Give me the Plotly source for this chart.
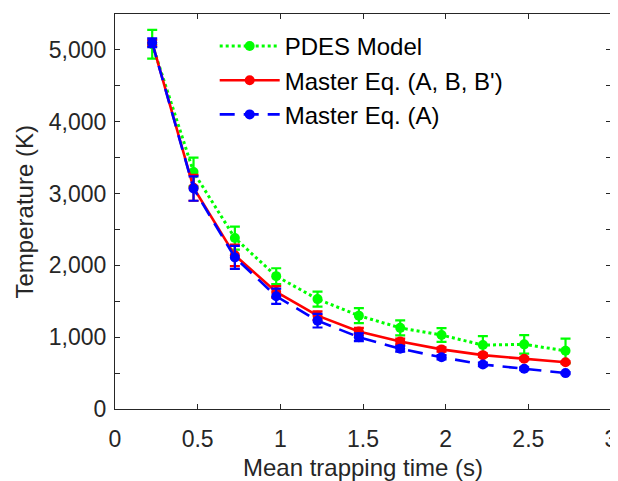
import plotly.graph_objects as go

x_time = [0.225, 0.475, 0.725, 0.975, 1.225, 1.475, 1.725, 1.975, 2.225, 2.475, 2.725]

pdes_T = [5080, 3300, 2380, 1850, 1530, 1300, 1130, 1030, 890, 900, 810]
pdes_err = [200, 200, 160, 110, 105, 105, 105, 95, 125, 130, 170]

meq_abb_T = [5100, 3080, 2140, 1630, 1300, 1080, 940, 830, 750, 700, 650]
meq_abb_err = [40, 180, 150, 80, 60, 50, 40, 30, 25, 20, 15]

meq_a_T = [5100, 3070, 2110, 1570, 1230, 1000, 840, 720, 620, 560, 500]
meq_a_err = [60, 170, 160, 105, 95, 55, 40, 30, 25, 20, 15]

names = ["PDES Model", "Master Eq. (A, B, B')", "Master Eq. (A)"]
colors = ["#00FF00", "#FF0000", "#0000FF"]
dashes = ["dot", "solid", "15px,9px"]
series = [(pdes_T, pdes_err), (meq_abb_T, meq_abb_err), (meq_a_T, meq_a_err)]

fig = go.Figure()
for (y, e), name, c, d in zip(series, names, colors, dashes):
    fig.add_trace(go.Scatter(
        x=x_time, y=y, name=name, mode="lines+markers",
        line=dict(color=c, width=3 if d == "dot" else 2.6, dash=d),
        marker=dict(color=c, size=10, symbol="circle"),
        error_y=dict(type="data", array=e, visible=True, color=c, thickness=2.2, width=5),
    ))

axis_color = "#262626"
fig.update_layout(
    width=610, height=473,
    margin=dict(l=107, r=7, t=6, b=72, autoexpand=False),
    paper_bgcolor="white", plot_bgcolor="white",
    font=dict(family="Liberation Sans, Arial, sans-serif", size=23, color=axis_color),
    showlegend=True,
    legend=dict(x=0.201, y=0.975, xanchor="left", yanchor="top",
                bgcolor="rgba(255,255,255,0)", borderwidth=0,
                font=dict(size=24, color="black"), itemwidth=60,
                tracegroupgap=0),
    xaxis=dict(range=[0, 3], tickvals=[0, 0.5, 1, 1.5, 2, 2.5, 3],
               ticktext=["0", "0.5", "1", "1.5", "2", "2.5", "3"],
               showline=True, linecolor=axis_color, linewidth=1, mirror="ticks",
               ticks="inside", ticklen=5, tickcolor=axis_color,
               ticklabelstandoff=9, tickfont=dict(size=23),
               showgrid=False, zeroline=False,
               title=dict(text="Mean trapping time (s)", standoff=19,
                          font=dict(size=24, color=axis_color))),
    yaxis=dict(range=[0, 5500], tickvals=[0, 1000, 2000, 3000, 4000, 5000],
               ticktext=["0", "1,000", "2,000", "3,000", "4,000", "5,000"],
               showline=True, linecolor=axis_color, linewidth=1, mirror="ticks",
               ticks="inside", ticklen=5, tickcolor=axis_color,
               ticklabelstandoff=3, tickfont=dict(size=23),
               minor=dict(tickvals=[500, 1500, 2500, 3500, 4500], ticks="inside",
                          ticklen=5, tickcolor=axis_color),
               showgrid=False, zeroline=False),
    annotations=[dict(text="Temperature (K)", xref="paper", yref="paper",
                      x=-0.1815, y=0.5, xanchor="center", yanchor="middle",
                      textangle=-90, showarrow=False,
                      font=dict(size=24, color=axis_color))],
)

fig.write_html("out.html")
